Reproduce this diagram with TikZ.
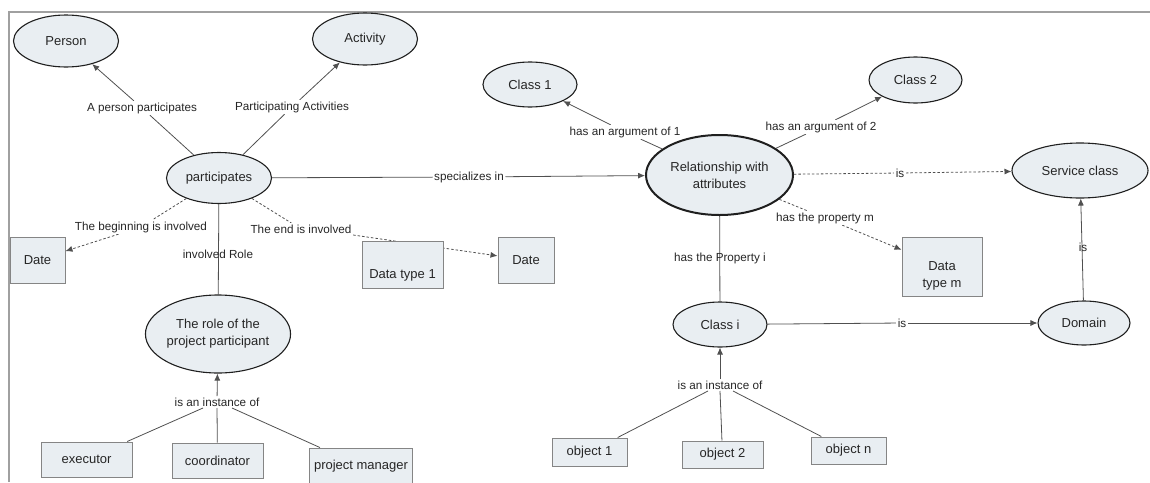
\documentclass[tikz,border=0pt]{standalone}
\usepackage{fontspec}
\setmainfont{Liberation Sans}
\usetikzlibrary{shapes.geometric,arrows.meta,backgrounds}
\definecolor{cfill}{HTML}{E9EEF2}
\definecolor{cline}{HTML}{505050}
\definecolor{ctext}{HTML}{262626}
\definecolor{cboxline}{HTML}{858585}
\definecolor{cframe}{HTML}{A0A0A0}
\begin{document}
\begin{tikzpicture}[x=1pt,y=-1pt,
  concept/.style={ellipse, draw=black!88, line width=1.1pt, fill=cfill, inner sep=0pt, text=ctext, font=\fontsize{13}{17}\selectfont, align=center},
  boxnode/.style={rectangle, draw=cboxline, line width=1pt, fill=cfill, inner sep=0pt, text=ctext, font=\fontsize{13}{17}\selectfont, align=center},
  plaintext/.style={inner sep=0pt, text=ctext, font=\fontsize{13}{17}\selectfont, align=center},
  link/.style={inner sep=1.5pt, fill=white, text=ctext, font=\fontsize{11.7}{14}\selectfont},
  linkclear/.style={inner sep=1.5pt, text=ctext, font=\fontsize{11.7}{14}\selectfont},
  edge/.style={draw=cline, line width=0.8pt},
  arr/.style={-{Latex[length=7pt,width=6pt]}},
  dashedge/.style={edge, dash pattern=on 2.5pt off 2pt},
]
\useasboundingbox (0,0) rectangle (1150,482);

% concepts and boxes
\node[concept, minimum width=105, minimum height=52] (person) at (66,41) {Person};
\node[concept, minimum width=105, minimum height=52] (activity) at (365,39) {Activity};
\node[concept, minimum width=105, minimum height=51] (part) at (219,178) {participates};
\node[boxnode, minimum width=55, minimum height=46] (date1) at (37.5,260) {Date};
\node[boxnode, minimum width=81, minimum height=47] (dt1) at (402.5,264.5) {};
\node[plaintext] (dt1t) at (402.5,275) {Data type 1};
\node[boxnode, minimum width=56, minimum height=46] (date2) at (526,260) {Date};
\node[concept, minimum width=130, minimum height=78] (role) at (218,334) {The role of the\\project participant};
\node[boxnode, minimum width=91, minimum height=35] (exec) at (86.5,459.5) {executor};
\node[boxnode, minimum width=91, minimum height=35] (coord) at (217.5,460.5) {coordinator};
\node[boxnode, minimum width=103, minimum height=36] (pm) at (361,466) {project manager};
\node[concept, minimum width=94, minimum height=45] (c1) at (530,84.5) {Class 1};
\node[concept, line width=2pt, minimum width=147, minimum height=80] (rel) at (719.5,175) {Relationship with\\attributes};
\node[concept, minimum width=93, minimum height=46] (c2) at (915.5,80) {Class 2};
\node[concept, minimum width=136, minimum height=55] (serv) at (1080,170.5) {Service class};
\node[boxnode, minimum width=80, minimum height=59] (dtm) at (942,266.5) {};
\node[plaintext] (dtmt) at (942,276) {Data\\type m};
\node[concept, minimum width=94, minimum height=45] (ci) at (720,324.5) {Class i};
\node[concept, minimum width=92, minimum height=44] (dom) at (1084,323) {Domain};
\node[boxnode, minimum width=75, minimum height=28] (o1) at (589.5,452) {object 1};
\node[boxnode, minimum width=81, minimum height=27] (o2) at (722.5,454.5) {object 2};
\node[boxnode, minimum width=75, minimum height=27] (on) at (848.5,450.5) {object n};

% linking phrases
\node[link] (lperson) at (142,108) {A person participates};
\node[link] (lact) at (292,107) {Participating Activities};
\node[link] (lspec) at (469,177) {specializes in};
\node[link] (lbeg) at (141,227) {The beginning is involved};
\node[link] (lend) at (301,229) {The end is involved};
\node[linkclear] (lrole) at (218,254) {involved Role};
\node[linkclear] (linst1) at (217,402) {is an instance of};
\node[link] (la1) at (625,132) {has an argument of 1};
\node[link] (la2) at (821,127) {has an argument of 2};
\node[link] (lis1) at (900,173) {is};
\node[link] (lpm) at (825,218) {has the property m};
\node[linkclear] (lpi) at (720,258) {has the Property i};
\node[link] (lis2) at (902,323) {is};
\node[linkclear] (lis3) at (1083,247) {is};
\node[linkclear] (linst2) at (720,385) {is an instance of};

\begin{scope}[on background layer]
\draw[cframe, line width=1.2pt] (9,482) -- (9,12) -- (1150,12);
\draw[edge] (part) -- (lperson); \draw[edge,arr] (lperson) -- (person);
\draw[edge] (part) -- (lact); \draw[edge,arr] (lact) -- (activity);
\draw[edge] (part) -- (lspec); \draw[edge,arr] (lspec) -- (rel);
\draw[dashedge] (part) -- (lbeg); \draw[dashedge,arr] (lbeg) -- (date1);
\draw[dashedge] (part) -- (lend); \draw[dashedge,arr] (lend.south east) -- (date2);
\draw[edge] (part) -- (role);
\draw[edge,arr] (linst1) -- (role);
\draw[edge] (exec) -- ([xshift=-14pt]linst1.south);
\draw[edge] (coord) -- (linst1.south);
\draw[edge] (pm) -- ([xshift=15pt]linst1.south);
\draw[edge] (rel) -- (la1); \draw[edge,arr] (la1) -- (c1);
\draw[edge] (rel) -- (la2); \draw[edge,arr] (la2) -- (c2);
\draw[dashedge] (rel) -- (lis1); \draw[dashedge,arr] (lis1) -- (serv);
\draw[dashedge] (rel) -- (lpm); \draw[dashedge,arr] (lpm) -- (dtm);
\draw[edge] (rel) -- (ci);
\draw[edge] (ci) -- (lis2); \draw[edge,arr] (lis2) -- (dom);
\draw[edge,arr] (dom) -- (serv);
\draw[edge,arr] (linst2) -- (ci);
\draw[edge] (o1) -- ([xshift=-12pt]linst2.south);
\draw[edge] (o2) -- (linst2.south);
\draw[edge] (on) -- ([xshift=13pt]linst2.south);
\end{scope}
\end{tikzpicture}
\end{document}
